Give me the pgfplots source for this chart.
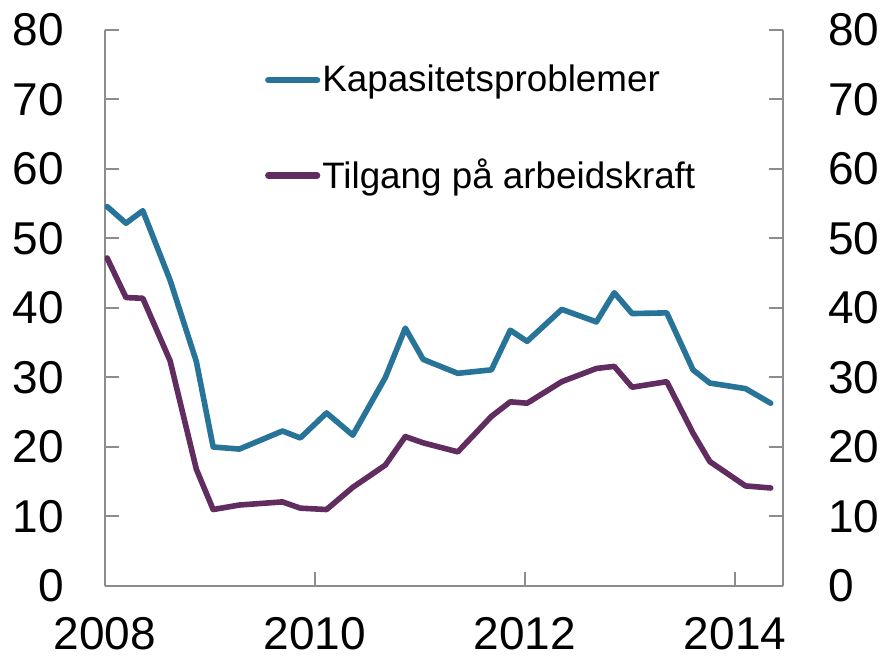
\documentclass[border=0pt]{standalone}
\usepackage{fontspec}
\setmainfont{Liberation Sans}
\usepackage{pgfplots}
\pgfplotsset{compat=1.18}
\definecolor{kblue}{RGB}{40,116,153}
\definecolor{kpurple}{RGB}{97,45,96}
\definecolor{axgray}{RGB}{140,140,140}
\begin{document}
\begin{tikzpicture}
\pgfplotsset{
  common/.style={
    scale only axis, width=339pt, height=278pt,
    xmin=2008, xmax=2014.457, ymin=0, ymax=80,
    ytick={0,10,...,80},
    tick align=inside, major tick length=7pt,
    axis line style={axgray, line width=1pt},
    every tick/.style={axgray, line width=1pt},
    /pgf/number format/assume math mode=true,
    tick label style={font=\fontsize{23}{27}\selectfont, inner sep=0pt},
  }
}
\begin{axis}[common, name=ax,
  axis x line*=bottom, axis y line*=left,
  xtick={2008,2010,2012,2014},
  xticklabel style={/pgf/number format/1000 sep={}},
  xticklabel shift=15.5pt,
  yticklabel shift=20.5pt,
  legend style={draw=none, fill=none, at={(0.2267,0.948)}, anchor=north west,
    row sep=30pt, font=\fontsize{18.4}{22}\selectfont,
    nodes={inner sep=1pt, anchor=west}},
  legend cell align=left,
  legend image code/.code={\draw[#1, line width=3.2pt, line cap=round] (1.6pt,0pt) -- (26pt,0pt);},
]
\addplot[kblue, line width=2.8pt, line join=round, line cap=round] coordinates {
(2008.02,54.6) (2008.20,52.2) (2008.36,54.0) (2008.62,44.0) (2008.87,32.3)
(2009.03,20.0) (2009.28,19.7) (2009.69,22.3) (2009.86,21.3) (2010.11,24.9)
(2010.36,21.7) (2010.67,30.0) (2010.86,37.1) (2011.03,32.6) (2011.36,30.6)
(2011.68,31.1) (2011.86,36.8) (2012.02,35.2) (2012.35,39.8) (2012.68,38.0)
(2012.85,42.2) (2013.02,39.2) (2013.35,39.3) (2013.60,31.1) (2013.76,29.2)
(2014.10,28.4) (2014.34,26.3)
};
\addlegendentry{Kapasitetsproblemer}
\addplot[kpurple, line width=2.8pt, line join=round, line cap=round] coordinates {
(2008.02,47.2) (2008.20,41.5) (2008.36,41.4) (2008.62,32.4) (2008.87,16.8)
(2009.03,11.0) (2009.28,11.65) (2009.69,12.1) (2009.86,11.2) (2010.11,11.0)
(2010.36,14.2) (2010.67,17.4) (2010.86,21.5) (2011.03,20.6) (2011.36,19.3)
(2011.68,24.4) (2011.86,26.5) (2012.02,26.3) (2012.35,29.4) (2012.68,31.3)
(2012.85,31.6) (2013.02,28.6) (2013.35,29.4) (2013.60,22.0) (2013.76,17.9)
(2014.10,14.4) (2014.34,14.1)
};
\addlegendentry{Tilgang på arbeidskraft}
\end{axis}
\begin{axis}[common,
  axis y line*=right, axis x line=none,
  yticklabel shift=22.5pt,
]
\end{axis}
\path (ax.south west) ++(-52.5pt,-37.5pt);
\path (ax.north east) ++(50pt,15pt);
\end{tikzpicture}
\end{document}
